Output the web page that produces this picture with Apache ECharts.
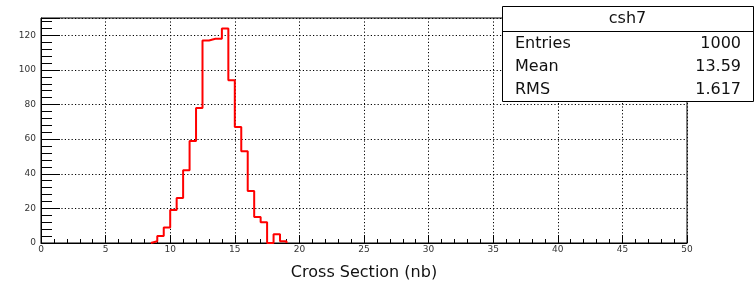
<!DOCTYPE html>
<html><head><meta charset="utf-8">
<script src="https://cdn.jsdelivr.net/npm/echarts@6/dist/echarts.min.js"></script>
<style>html,body{margin:0;padding:0;background:#fff}#c{width:756px;height:286px}</style>
</head><body><div id="c"></div>
<script>
// ---- data ----
const binStarts = [8.5, 9, 9.5, 10, 10.5, 11, 11.5, 12, 12.5, 13, 13.5, 14, 14.5, 15, 15.5, 16, 16.5, 17, 17.5, 18, 18.5];
const binWidth = 0.5;
const counts = [1, 4, 9, 19, 26, 42, 59, 78, 117, 118, 118, 124, 94, 67, 53, 30, 15, 12, 0, 5, 1];
const xRange = [0, 50];
const xMajorStep = 5;
const yRange = [0, 130];
const yMajorStep = 20;
const yMinorStep = 4;
const histName = 'csh7';
const statLabels = ['Entries', 'Mean', 'RMS'];
const statValues = ['1000', '13.59', '1.617'];
const xTitle = 'Cross Section (nb)';

// ---- build histogram outline from bins ----
const outline = [[binStarts[0], 0]];
binStarts.forEach((x0, i) => {
  outline.push([x0, counts[i]]);
  outline.push([x0 + binWidth, counts[i]]);
});
outline.push([binStarts[binStarts.length - 1] + binWidth, 0]);

const FONT = 'DejaVu Sans';
const dotted = { color: '#000', width: 1, type: [1.2, 2.2] };

const chart = echarts.init(document.getElementById('c'), null, { renderer: 'canvas' });
const L = 41, R = 687, T = 18, B = 246;
const bx = 502, by = 6, bw = 251, bh = 95;
chart.setOption({
  animation: false,
  backgroundColor: '#fff',
  grid: { left: L, right: 756 - R, top: T, bottom: 286 - B, show: true, borderColor: '#000', borderWidth: 1, backgroundColor: 'transparent' },
  xAxis: {
    type: 'value', min: xRange[0], max: xRange[1], interval: xMajorStep,
    axisLine: { lineStyle: { color: '#000', width: 1 } },
    axisTick: { inside: true, length: 8, lineStyle: { color: '#000' } },
    minorTick: { show: true, splitNumber: 5, length: 4, lineStyle: { color: '#000', width: 1 } },
    axisLabel: { fontFamily: FONT, fontSize: 9, color: '#333', margin: 2 },
    splitLine: { show: true, lineStyle: dotted },
    name: xTitle, nameLocation: 'middle', nameGap: 22,
    nameTextStyle: { fontFamily: FONT, fontSize: 16, color: '#111' }
  },
  yAxis: [{
    type: 'value', min: yRange[0], max: yRange[1], interval: yMajorStep,
    axisLine: { show: true, lineStyle: { color: '#000', width: 1 } },
    axisTick: { show: true, inside: true, length: 19, lineStyle: { color: '#000' } },
    axisLabel: { fontFamily: FONT, fontSize: 9, color: '#333', margin: 5,
      formatter: v => (v % yMajorStep === 0 ? String(v) : '') },
    splitLine: { show: true, lineStyle: dotted }
  }, {
    type: 'value', min: yRange[0], max: yRange[1], interval: yMinorStep, position: 'left',
    axisLine: { show: false },
    axisTick: { show: true, inside: true, length: 11, lineStyle: { color: '#000' } },
    axisLabel: { show: false },
    splitLine: { show: false }
  }],
  series: [{
    type: 'line', data: outline, showSymbol: false, symbol: 'none',
    lineStyle: { color: '#ff0000', width: 2 }, z: 5, clip: true
  }],
  graphic: [{
    type: 'group', z: 100, children: [
      { type: 'rect', shape: { x: bx + 0.5, y: by + 0.5, width: bw, height: bh },
        style: { fill: '#fff', stroke: '#000', lineWidth: 1 }, z: 100 },
      { type: 'line', shape: { x1: bx + 0.5, y1: 31.5, x2: bx + bw + 0.5, y2: 31.5 },
        style: { stroke: '#000', lineWidth: 1 }, z: 101 },
      { type: 'text', x: bx + bw / 2, y: 18.5, z: 101,
        style: { text: histName, fontFamily: FONT, fontSize: 16, fill: '#111', align: 'center', verticalAlign: 'middle' } },
      ...statLabels.map((s, i) => ({ type: 'text', x: 515, y: [43.5, 67, 89.5][i], z: 101,
        style: { text: s, fontFamily: FONT, fontSize: 16, fill: '#111', align: 'left', verticalAlign: 'middle' } })),
      ...statValues.map((s, i) => ({ type: 'text', x: 741, y: [43.5, 67, 89.5][i], z: 101,
        style: { text: s, fontFamily: FONT, fontSize: 16, fill: '#111', align: 'right', verticalAlign: 'middle' } }))
    ]
  }]
});
</script></body></html>
